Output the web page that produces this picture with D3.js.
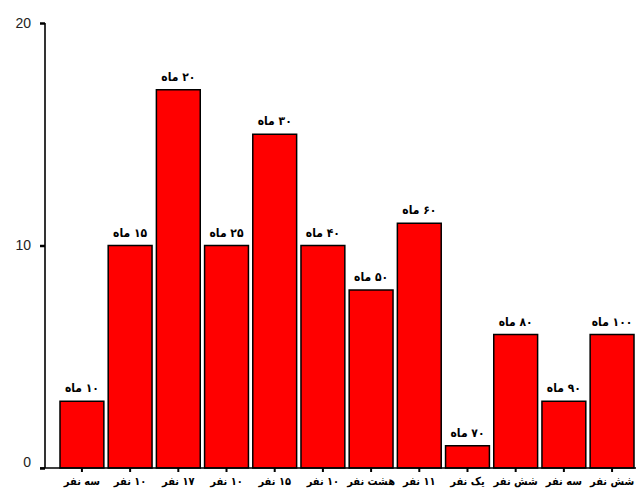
<!DOCTYPE html>
<html><head><meta charset="utf-8">
<script src="https://cdn.jsdelivr.net/npm/d3@7"></script>
<style>body{margin:0;background:#fff}svg{display:block}</style>
</head><body>
<script>
const categories = ["سه نفر","۱۰ نفر","۱۷ نفر","۱۰ نفر","۱۵ نفر","۱۰ نفر","هشت نفر","۱۱ نفر","یک نفر","شش نفر","سه نفر","شش نفر"];
const barLabels = ["۱۰ ماه","۱۵ ماه","۲۰ ماه","۲۵ ماه","۳۰ ماه","۴۰ ماه","۵۰ ماه","۶۰ ماه","۷۰ ماه","۸۰ ماه","۹۰ ماه","۱۰۰ ماه"];
const values = [3,10,17,10,15,10,8,11,1,6,3,6];
const yTicks = [0,10,20];

const W=636,H=499;
const svg=d3.select("body").append("svg").attr("width",W).attr("height",H);
const idx=d3.range(values.length);
const x=d3.scaleBand().domain(idx).range([60,634]).paddingInner(0.09).paddingOuter(0);
const y=d3.scaleLinear().domain([0,20]).range([468,23]);

// bars
svg.selectAll("rect.bar").data(idx).join("rect").attr("class","bar")
  .attr("x",i=>x(i)).attr("width",x.bandwidth())
  .attr("y",i=>y(values[i])).attr("height",i=>y(0)-y(values[i]))
  .attr("fill","#ff0000").attr("stroke","#000").attr("stroke-width",1.5);

// bar labels
svg.selectAll("text.bl").data(idx).join("text").attr("class","bl")
  .attr("x",i=>x(i)+x.bandwidth()/2).attr("y",i=>y(values[i])-9)
  .attr("text-anchor","middle").attr("direction","rtl")
  .attr("font-family","DejaVu Sans Condensed, DejaVu Sans").attr("font-weight","bold").attr("font-size",12)
  .attr("fill","#000").text(i=>barLabels[i]);

// y axis
const yAxis=svg.append("g").attr("transform","translate(45,0)")
  .call(d3.axisLeft(y).tickValues(yTicks).tickSize(5).tickPadding(9).tickFormat(d3.format("d")));
yAxis.select(".domain").attr("stroke","#000").attr("stroke-width",1.6).attr("d","M0,"+y(20)+"V"+y(0));
yAxis.selectAll(".tick line").attr("stroke-width",2.5);
yAxis.selectAll(".tick text").attr("font-family","Liberation Sans, Arial, sans-serif").attr("font-size",14).attr("fill","#222");
yAxis.selectAll(".tick").filter(d=>d===0).select("text").attr("dy","-0.1em");

// x axis
const xAxis=svg.append("g").attr("transform","translate(0,"+y(0)+")")
  .call(d3.axisBottom(x).tickSize(4).tickPadding(5).tickFormat(i=>categories[i]));
xAxis.select(".domain").attr("stroke","#000").attr("stroke-width",1.6).attr("d","M40,0H636");
xAxis.selectAll(".tick line").attr("stroke-width",2);
xAxis.selectAll(".tick text").attr("direction","rtl")
  .attr("font-family","DejaVu Sans Condensed, DejaVu Sans").attr("font-weight","bold").attr("font-size",11).attr("fill","#000");
</script>
</body></html>
